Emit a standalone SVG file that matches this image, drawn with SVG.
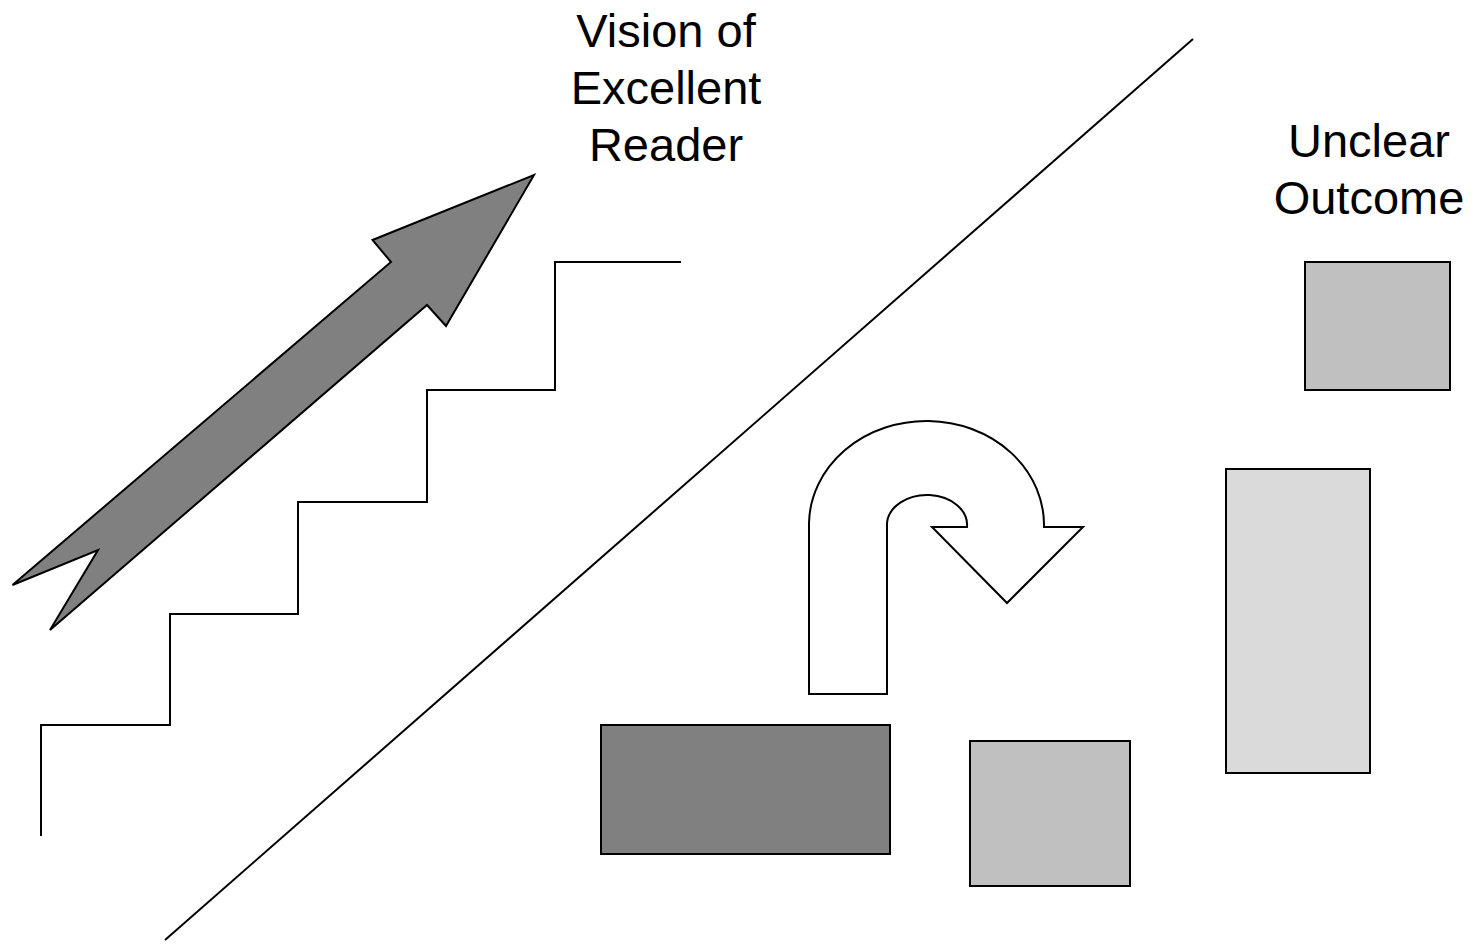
<svg xmlns="http://www.w3.org/2000/svg" width="1480" height="951" viewBox="0 0 1480 951">
  <style>
    .ln { fill: none; stroke: #000; stroke-width: 2; }
    .shape { stroke: #000; stroke-width: 2; stroke-linejoin: miter; }
    .lbl { font-family: "Liberation Sans", Arial, sans-serif; font-size: 47px; fill: #000; text-anchor: middle; }
  </style>
  <rect width="1480" height="951" fill="#fff"/>

  <g id="connectors">
    <!-- diagonal divider -->
    <line class="ln" x1="165" y1="940" x2="1193" y2="39"/>
  </g>

  <g id="staircase">
    <polyline class="ln" points="41,836 41,725 170,725 170,614 298,614 298,502 427,502 427,390 555,390 555,262 681,262"/>
  </g>

  <g id="rising-arrow">
    <polygon class="shape" fill="#808080" points="534,175 446,326 427,305 50,630 98,550 12.5,585 391,262 372.5,240"/>
  </g>

  <g id="vision-label">
    <text class="lbl" x="666" y="47">Vision of</text>
    <text class="lbl" x="666" y="104">Excellent</text>
    <text class="lbl" x="666" y="161">Reader</text>
  </g>

  <g id="unclear-label">
    <text class="lbl" x="1369" y="157">Unclear</text>
    <text class="lbl" x="1369" y="214">Outcome</text>
  </g>

  <g id="u-turn-arrow">
    <path class="shape" fill="#fff" d="M809,694 L887,694 L887,523 A40,30 0 0 1 967,527 L932,527 L1007,603 L1083,527 L1044,527 A117.5,104 0 0 0 809,523 Z"/>
  </g>

  <g id="block-dark">
    <rect class="shape" fill="#808080" x="601" y="725" width="289" height="129"/>
  </g>
  <g id="block-mid">
    <rect class="shape" fill="#c0c0c0" x="970" y="741" width="160" height="145"/>
  </g>
  <g id="block-tall">
    <rect class="shape" fill="#dadada" x="1226" y="469" width="144" height="304"/>
  </g>
  <g id="block-top">
    <rect class="shape" fill="#c0c0c0" x="1305" y="262" width="145" height="128"/>
  </g>
</svg>
